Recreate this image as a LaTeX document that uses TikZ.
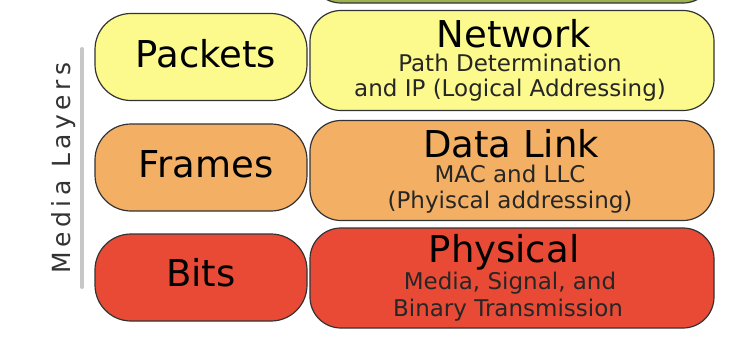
\documentclass[tikz,border=0pt]{standalone}
\usepackage{fontspec}
\setmainfont{DejaVu Sans}
\newfontfamily\trackedfont[LetterSpace=18]{DejaVu Sans}
\usepackage{tikz}
\definecolor{transgreen}{HTML}{9BB24F}
\definecolor{netyellow}{HTML}{FCFA8C}
\definecolor{linkorange}{HTML}{F3B065}
\definecolor{physred}{HTML}{E84A36}

\begin{document}
\begin{tikzpicture}[x=1pt, y=-1pt,
    layerbox/.style={draw=black!80, line width=1.2pt, inner sep=0pt},
    unitbox/.style={layerbox, rounded corners=36pt, minimum width=212pt, minimum height=87pt},
    osibox/.style={layerbox, rounded corners=31pt, minimum width=404pt, minimum height=100pt},
    title/.style={anchor=base, inner sep=0pt, font=\fontsize{37}{40}\selectfont},
    detail/.style={anchor=base, inner sep=0pt, font=\fontsize{23}{25}\selectfont, text=black!85}]
  \useasboundingbox (0,0) rectangle (742,338);
  \clip (0,0) rectangle (742,338);
  % layer boxes (the top one is cut off)
  \node[osibox, fill=transgreen] (transport) at (512,-47) {};
  \node[osibox, fill=netyellow] (network) at (512,60.5) {};
  \node[osibox, fill=linkorange] (datalink) at (512,170.5) {};
  \node[osibox, fill=physred] (physical) at (512,278) {};
  \node[unitbox, fill=netyellow] (packetsbox) at (201,57) {};
  \node[unitbox, fill=linkorange] (framesbox) at (201,167.5) {};
  \node[unitbox, fill=physred] (bitsbox) at (201,277.5) {};
  % data units
  \node[title] (packets) at (206,67) {Packets};
  \node[title] (frames) at (206,177.5) {Frames};
  \node[title] (bits) at (201,286) {Bits};
  % layer names and details
  \node[title] (networkT) at (514,47) {Network};
  \node[detail] (networkA) at (510,71) {Path Determination};
  \node[detail] (networkB) at (510,96) {and IP (Logical Addressing)};
  \node[title] (datalinkT) at (511,157) {Data Link};
  \node[detail] (datalinkA) at (510,182) {MAC and LLC};
  \node[detail] (datalinkB) at (510,208) {(Phyiscal addressing)};
  \node[title] (physicalT) at (504,262) {Physical};
  \node[detail] (physicalA) at (510,289) {Media, Signal, and};
  \node[detail] (physicalB) at (508,316) {Binary Transmission};
  % media layers bracket
  \coordinate (barTop) at (82,49);
  \coordinate (barBot) at (82,287);
  \draw[line width=4pt, black!22, line cap=round] (barTop) -- (barBot);
  \node[rotate=90, font=\trackedfont\fontsize{25}{27}\selectfont, text=black!80] (media) at (64,168) {Media Layers};
\end{tikzpicture}
\end{document}
